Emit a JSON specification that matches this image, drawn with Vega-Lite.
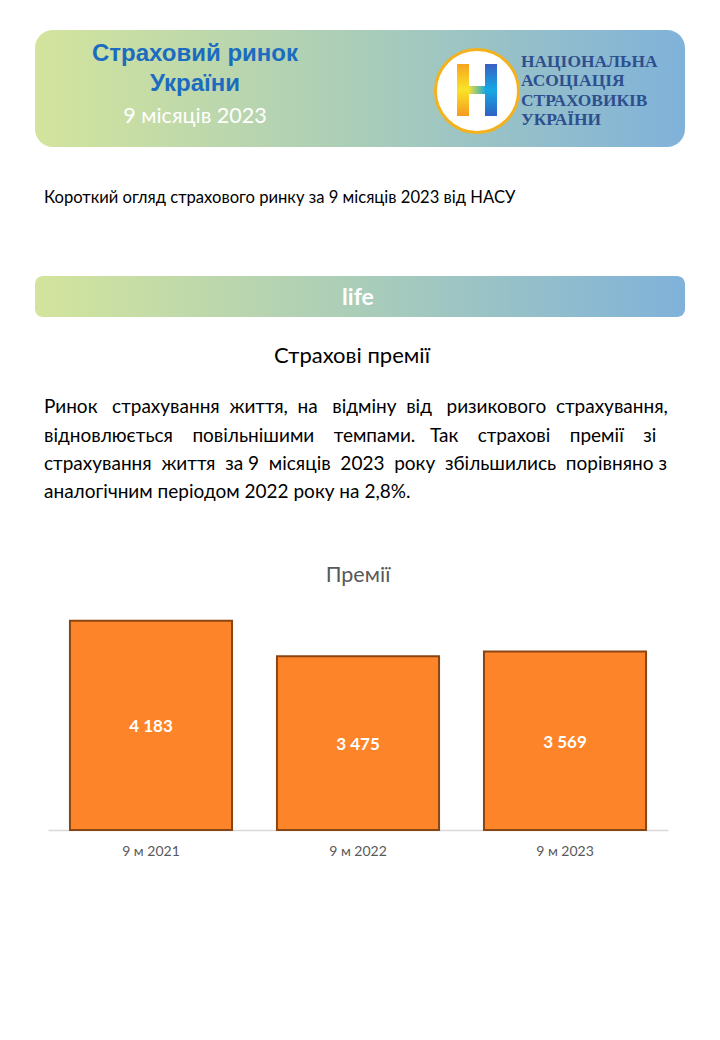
{
  "$schema": "https://vega.github.io/schema/vega-lite/v6.json",
  "background": "white",
  "padding": 0,
  "spacing": 0,
  "config": {
    "view": {"stroke": null},
    "locale": {"number": {"decimal": ",", "thousands": " ", "grouping": [3], "currency": ["", ""]}}
  },
  "vconcat": [
    {
      "width": 672,
      "height": 590,
      "layer": [
        {
          "data": {"values": [{"id": "header"}]},
          "mark": {"type": "rect", "x": -13, "x2": 637, "y": 30, "y2": 147, "cornerRadius": 18,
            "color": {"gradient": "linear", "x1": 0, "y1": 0, "x2": 1, "y2": 0,
              "stops": [{"offset": 0, "color": "#d3e49c"}, {"offset": 0.5, "color": "#aacdb9"}, {"offset": 1, "color": "#80b2da"}]}},
          "encoding": {}
        },
        {
          "data": {"values": [{"id": "life"}]},
          "mark": {"type": "rect", "x": -13, "x2": 637, "y": 276, "y2": 317, "cornerRadius": 8,
            "color": {"gradient": "linear", "x1": 0, "y1": 0, "x2": 1, "y2": 0,
              "stops": [{"offset": 0, "color": "#d3e49c"}, {"offset": 0.5, "color": "#aacdb9"}, {"offset": 1, "color": "#80b2da"}]}},
          "encoding": {}
        },
        {
          "data": {"values": [{"t": "Страховий ринок"}]},
          "mark": {"type": "text", "x": 147, "y": 54, "align": "center", "baseline": "middle", "font": "Liberation Sans", "fontWeight": "bold", "fontSize": 24, "color": "#1b6cc0"},
          "encoding": {"text": {"field": "t"}}
        },
        {
          "data": {"values": [{"t": "України"}]},
          "mark": {"type": "text", "x": 147, "y": 84, "align": "center", "baseline": "middle", "font": "Liberation Sans", "fontWeight": "bold", "fontSize": 24, "color": "#1b6cc0"},
          "encoding": {"text": {"field": "t"}}
        },
        {
          "data": {"values": [{"t": "9 місяців 2023"}]},
          "mark": {"type": "text", "x": 147, "y": 117, "align": "center", "baseline": "middle", "font": "Lato", "fontSize": 21.5, "color": "white"},
          "encoding": {"text": {"field": "t"}}
        },
        {
          "data": {"values": [{"id": "logo"}]},
          "mark": {"type": "point", "shape": "circle", "x": 429, "y": 91, "size": 6900, "filled": true, "fill": "white", "stroke": "#f3b21c", "strokeWidth": 3, "opacity": 1},
          "encoding": {}
        },
        {
          "data": {"values": [{"id": "hleft"}]},
          "mark": {"type": "rect", "x": 409, "x2": 421, "y": 64, "y2": 116,
            "color": {"gradient": "linear", "x1": 0, "y1": 0, "x2": 0, "y2": 1,
              "stops": [{"offset": 0, "color": "#f6a51f"}, {"offset": 0.5, "color": "#fbe328"}, {"offset": 1, "color": "#f59a1d"}]}},
          "encoding": {}
        },
        {
          "data": {"values": [{"id": "hmid"}]},
          "mark": {"type": "rect", "x": 420, "x2": 438, "y": 86, "y2": 94,
            "color": {"gradient": "linear", "x1": 0, "y1": 0, "x2": 1, "y2": 0,
              "stops": [{"offset": 0, "color": "#fbe328"}, {"offset": 1, "color": "#16a6e3"}]}},
          "encoding": {}
        },
        {
          "data": {"values": [{"id": "hright"}]},
          "mark": {"type": "rect", "x": 437, "x2": 449, "y": 64, "y2": 116,
            "color": {"gradient": "linear", "x1": 0, "y1": 0, "x2": 0, "y2": 1,
              "stops": [{"offset": 0, "color": "#3a5fc4"}, {"offset": 0.5, "color": "#15a9e4"}, {"offset": 1, "color": "#2f62c2"}]}},
          "encoding": {}
        },
        {
          "data": {"values": [{"t": "НАЦІОНАЛЬНА"}]},
          "mark": {"type": "text", "x": 473, "y": 62, "align": "left", "baseline": "middle", "font": "Liberation Serif", "fontWeight": "bold", "fontSize": 17.4, "color": "#2e4f8e"},
          "encoding": {"text": {"field": "t"}}
        },
        {
          "data": {"values": [{"t": "АСОЦІАЦІЯ"}]},
          "mark": {"type": "text", "x": 473, "y": 81, "align": "left", "baseline": "middle", "font": "Liberation Serif", "fontWeight": "bold", "fontSize": 17.4, "color": "#2e4f8e"},
          "encoding": {"text": {"field": "t"}}
        },
        {
          "data": {"values": [{"t": "СТРАХОВИКІВ"}]},
          "mark": {"type": "text", "x": 473, "y": 101, "align": "left", "baseline": "middle", "font": "Liberation Serif", "fontWeight": "bold", "fontSize": 17.4, "color": "#2e4f8e"},
          "encoding": {"text": {"field": "t"}}
        },
        {
          "data": {"values": [{"t": "УКРАЇНИ"}]},
          "mark": {"type": "text", "x": 473, "y": 120, "align": "left", "baseline": "middle", "font": "Liberation Serif", "fontWeight": "bold", "fontSize": 17.4, "color": "#2e4f8e"},
          "encoding": {"text": {"field": "t"}}
        },
        {
          "data": {"values": [{"t": "Короткий огляд страхового ринку за 9 місяців 2023 від НАСУ"}]},
          "mark": {"type": "text", "x": -4, "y": 198, "align": "left", "baseline": "middle", "font": "Lato", "fontSize": 16.6, "color": "black"},
          "encoding": {"text": {"field": "t"}}
        },
        {
          "data": {"values": [{"t": "life"}]},
          "mark": {"type": "text", "x": 310, "y": 298, "align": "center", "baseline": "middle", "font": "Lato", "fontWeight": "bold", "fontSize": 23, "color": "white"},
          "encoding": {"text": {"field": "t"}}
        },
        {
          "data": {"values": [{"t": "Страхові премії"}]},
          "mark": {"type": "text", "x": 304, "y": 356, "align": "center", "baseline": "middle", "font": "Lato", "fontSize": 22, "color": "black"},
          "encoding": {"text": {"field": "t"}}
        },
        {
          "data": {"values": [{"t": "Ринок \u00a0\u00a0страхування \u00a0життя, \u00a0на \u00a0\u00a0відміну \u00a0від \u00a0\u00a0ризикового \u00a0страхування,"}]},
          "mark": {"type": "text", "x": -4, "y": 407, "align": "left", "baseline": "middle", "font": "Lato", "fontSize": 19, "color": "black"},
          "encoding": {"text": {"field": "t"}}
        },
        {
          "data": {"values": [{"t": "відновлюється \u00a0\u00a0\u00a0повільнішими \u00a0\u00a0\u00a0темпами. \u00a0\u00a0Так \u00a0\u00a0\u00a0страхові \u00a0\u00a0\u00a0премії \u00a0\u00a0\u00a0зі"}]},
          "mark": {"type": "text", "x": -4, "y": 436, "align": "left", "baseline": "middle", "font": "Lato", "fontSize": 19, "color": "black"},
          "encoding": {"text": {"field": "t"}}
        },
        {
          "data": {"values": [{"t": "страхування \u00a0життя \u00a0за 9 \u00a0місяців \u00a02023 \u00a0року \u00a0збільшились \u00a0порівняно з"}]},
          "mark": {"type": "text", "x": -4, "y": 464, "align": "left", "baseline": "middle", "font": "Lato", "fontSize": 19, "color": "black"},
          "encoding": {"text": {"field": "t"}}
        },
        {
          "data": {"values": [{"t": "аналогічним періодом 2022 року на 2,8%."}]},
          "mark": {"type": "text", "x": -4, "y": 492, "align": "left", "baseline": "middle", "font": "Lato", "fontSize": 19, "color": "black"},
          "encoding": {"text": {"field": "t"}}
        },
        {
          "data": {"values": [{"t": "Премії"}]},
          "mark": {"type": "text", "x": 310, "y": 576, "align": "center", "baseline": "middle", "font": "Lato", "fontSize": 21.5, "color": "#595959"},
          "encoding": {"text": {"field": "t"}}
        }
      ]
    },
    {
      "width": 620,
      "height": 240,
      "data": {"values": [
        {"period": "9 м 2021", "value": 4183},
        {"period": "9 м 2022", "value": 3475},
        {"period": "9 м 2023", "value": 3569}
      ]},
      "layer": [
        {
          "mark": {"type": "bar", "color": "#fe8429", "stroke": "#8a4513", "strokeWidth": 2},
          "encoding": {
            "x": {"field": "period", "type": "nominal", "sort": null,
              "scale": {"paddingInner": 0.217, "paddingOuter": 0.106},
              "axis": {"title": null, "labelAngle": 0, "ticks": false, "labelPadding": 14, "labelFont": "Lato", "labelFontSize": 14, "labelColor": "#595959", "domainColor": "#d9d9d9", "domainWidth": 1.5}},
            "y": {"field": "value", "type": "quantitative", "scale": {"domain": [0, 4800]},
              "axis": {"title": null, "labels": false, "ticks": false, "domain": false, "grid": false, "minExtent": 48, "maxExtent": 48}}
          }
        },
        {
          "mark": {"type": "text", "font": "Lato", "fontWeight": "bold", "fontSize": 17, "color": "white", "baseline": "middle", "dy": 2},
          "encoding": {
            "x": {"field": "period", "type": "nominal", "sort": null},
            "y": {"field": "value", "type": "quantitative", "scale": {"domain": [0, 9600]}, "axis": null},
            "text": {"field": "value", "type": "quantitative", "format": ",d"}
          }
        }
      ],
      "resolve": {"scale": {"y": "independent"}}
    }
  ]
}
